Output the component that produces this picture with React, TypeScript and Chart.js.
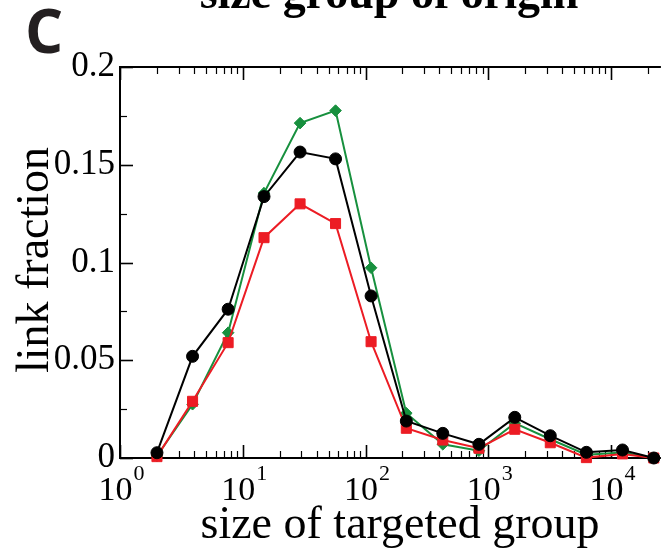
import React, { useEffect, useRef } from "react";
import { Chart, registerables } from "chart.js";

Chart.register(...registerables);

// ---- data ----
const sizes = [2, 3.9, 7.6, 14.9, 29.3, 57, 111, 215, 426, 839, 1644, 3200, 6300, 12400, 22300];
const blackSeries = [0.0027, 0.052, 0.0761, 0.1337, 0.1565, 0.153, 0.0829, 0.0189, 0.0126, 0.007, 0.0208, 0.0114, 0.0029, 0.0041, 0.0];
const redSeries = [0.0007, 0.029, 0.059, 0.1127, 0.13, 0.1199, 0.0595, 0.0152, 0.0092, 0.005, 0.0147, 0.0078, 0.0002, 0.0021, 0.0];
const greenSeries = [0.001, 0.0275, 0.0641, 0.1355, 0.1713, 0.1777, 0.0973, 0.0229, 0.007, 0.0037, 0.0178, 0.0096, 0.0017, 0.0028, 0.0];
const yTickValues = [0, 0.05, 0.1, 0.15, 0.2];
const yTickLabels = ["0", "0.05", "0.1", "0.15", "0.2"];
const yMinorValues = [0.025, 0.075, 0.125, 0.175];
const xDecades = [0, 1, 2, 3, 4];
const panelLetter = "C";
const titleText = "size group of origin";
const xTitle = "size of targeted group";
const yTitle = "link fraction";

const SERIF = "'Liberation Serif', 'Times New Roman', serif";

const axesPlugin = {
  id: "customAxes",
  beforeDatasetsDraw(chart: any) {
    const { ctx, chartArea } = chart;
    const xs = chart.scales.x;
    const ys = chart.scales.y;
    const { left, right, top, bottom } = chartArea;
    ctx.save();
    ctx.strokeStyle = "#000";
    // frame
    ctx.lineWidth = 2;
    ctx.beginPath();
    ctx.moveTo(right + 5, top);
    ctx.lineTo(left, top);
    ctx.lineTo(left, bottom);
    ctx.lineTo(right + 5, bottom);
    ctx.stroke();
    // x ticks
    for (let d = 0; d <= 5; d++) {
      for (let k = 1; k <= 9; k++) {
        const v = k * Math.pow(10, d);
        if (v < xs.min || v > xs.max) continue;
        const px = Math.round(xs.getPixelForValue(v)) + 0.5;
        const len = k === 1 ? 13 : 7;
        ctx.lineWidth = k === 1 ? 1.6 : 1.2;
        ctx.beginPath();
        ctx.moveTo(px, bottom);
        ctx.lineTo(px, bottom - len);
        ctx.moveTo(px, top);
        ctx.lineTo(px, top + len);
        ctx.stroke();
      }
    }
    // y ticks
    yTickValues.forEach((v) => {
      const py = Math.round(ys.getPixelForValue(v)) + 0.5;
      ctx.lineWidth = 1.6;
      ctx.beginPath();
      ctx.moveTo(left, py);
      ctx.lineTo(left + 13, py);
      ctx.stroke();
    });
    yMinorValues.forEach((v) => {
      const py = Math.round(ys.getPixelForValue(v)) + 0.5;
      ctx.lineWidth = 1.2;
      ctx.beginPath();
      ctx.moveTo(left, py);
      ctx.lineTo(left + 7, py);
      ctx.stroke();
    });
    ctx.restore();
  },
  afterDraw(chart: any) {
    const { ctx, chartArea } = chart;
    const xs = chart.scales.x;
    const ys = chart.scales.y;
    const { left, bottom } = chartArea;
    ctx.save();
    ctx.fillStyle = "#000";
    // y tick labels
    ctx.font = `35px ${SERIF}`;
    ctx.textAlign = "right";
    ctx.textBaseline = "middle";
    yTickValues.forEach((v, i) => {
      ctx.fillText(yTickLabels[i], left - 5, ys.getPixelForValue(v));
    });
    // x tick labels 10^d
    ctx.textBaseline = "alphabetic";
    ctx.textAlign = "left";
    xDecades.forEach((d) => {
      const px = xs.getPixelForValue(Math.pow(10, d));
      ctx.font = `34px ${SERIF}`;
      const w1 = ctx.measureText("10").width;
      ctx.font = `22px ${SERIF}`;
      const w2 = ctx.measureText(String(d)).width;
      const x0 = px - (w1 + w2) / 2 + 1;
      ctx.font = `34px ${SERIF}`;
      ctx.fillText("10", x0, bottom + 42);
      ctx.font = `22px ${SERIF}`;
      ctx.fillText(String(d), x0 + w1 + 1, bottom + 22);
    });
    // axis titles
    ctx.font = `46px ${SERIF}`;
    ctx.textAlign = "center";
    ctx.fillText(xTitle, 400, 538);
    ctx.save();
    ctx.translate(48, 260);
    ctx.rotate(-Math.PI / 2);
    ctx.fillText(yTitle, 0, 0);
    ctx.restore();
    // title (cut at top)
    ctx.font = `bold 46px ${SERIF}`;
    ctx.fillText(titleText, 389, 8);
    // panel letter
    ctx.fillStyle = "#231f20";
    ctx.font = `bold 60px 'Open Sans', 'DejaVu Sans', sans-serif`;
    ctx.textAlign = "left";
    ctx.fillText(panelLetter, 25, 53);
    ctx.restore();
  },
};

export default function App() {
  const canvasRef = useRef<HTMLCanvasElement | null>(null);

  useEffect(() => {
    const canvas = canvasRef.current;
    if (!canvas) return;
    const mk = (vals: number[]) => vals.map((y, i) => ({ x: sizes[i], y }));
    const chart = new Chart(canvas, {
      type: "line",
      data: {
        datasets: [
          {
            label: "black",
            data: mk(blackSeries),
            borderColor: "#000000",
            backgroundColor: "#000000",
            borderWidth: 2,
            pointStyle: "circle",
            pointRadius: 6,
            pointBorderWidth: 1,
            clip: false,
          },
          {
            label: "red",
            data: mk(redSeries),
            borderColor: "#ec1c24",
            backgroundColor: "#ec1c24",
            borderWidth: 2,
            pointStyle: "rect",
            pointRadius: 7.1,
            pointBorderWidth: 1,
            clip: false,
          },
          {
            label: "green",
            data: mk(greenSeries),
            borderColor: "#17903e",
            backgroundColor: "#17903e",
            borderWidth: 2,
            pointStyle: "rectRot",
            pointRadius: 5.8,
            pointBorderWidth: 1,
            clip: false,
          },
        ],
      },
      options: {
        responsive: false,
        animation: false,
        devicePixelRatio: 1,
        layout: { padding: { left: 120, top: 67, right: 0, bottom: 90 } },
        scales: {
          x: { type: "logarithmic", min: 1, max: 23200, display: false },
          y: { type: "linear", min: 0, max: 0.2, display: false },
        },
        plugins: {
          legend: { display: false },
          tooltip: { enabled: false },
          title: { display: false },
        },
        elements: { line: { tension: 0 } },
      },
      plugins: [axesPlugin],
    });
    return () => chart.destroy();
  }, []);

  return (
    <div style={{ position: "absolute", left: 0, top: 0, width: 664, height: 548, background: "#fff" }}>
      <canvas ref={canvasRef} width={664} height={548} style={{ display: "block" }} />
    </div>
  );
}
